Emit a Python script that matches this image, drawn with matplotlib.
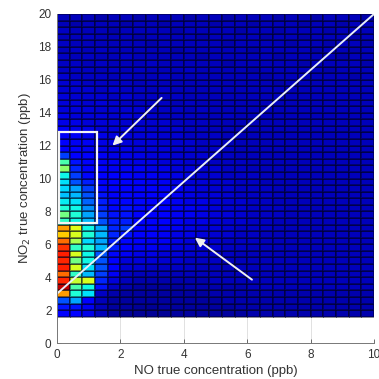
import numpy as np
import matplotlib
matplotlib.use("Agg")
import matplotlib.pyplot as plt
from matplotlib.patches import Rectangle

plt.rcParams['font.family'] = ['Liberation Sans', 'DejaVu Sans']

# 2D histogram bins (ppb)
no_range = (0, 10)
no2_range = (1.6, 20)
bin_width = 0.4

# relative density (percent of colour scale), rows from top (NO2 = 20) to bottom (NO2 = 1.6),
# columns from NO = 0 to NO = 10
density_rows = [
    "07 07 07 06 07 07 06 07 07 07 06 07 07 06 07 07 07 06 07 07 06 07 07 07 06",
    "07 06 07 07 07 06 07 07 06 07 07 07 06 07 07 06 07 07 07 06 07 07 06 07 07",
    "08 07 07 07 06 07 07 07 07 06 07 07 07 07 06 07 07 06 07 07 07 06 07 07 07",
    "07 07 08 07 07 07 06 07 07 07 07 06 07 07 07 07 06 07 07 06 07 07 07 06 07",
    "08 07 07 07 07 07 07 06 07 07 07 07 07 06 07 07 07 07 06 07 07 06 07 07 06",
    "07 08 07 08 07 07 07 07 07 06 07 07 07 07 07 06 07 07 07 07 06 07 07 06 07",
    "08 07 08 07 07 08 07 07 07 07 07 06 07 07 07 07 07 06 07 07 07 07 06 07 07",
    "08 08 07 08 07 07 07 08 07 07 07 07 07 06 07 07 07 07 07 06 07 07 07 07 06",
    "08 08 08 07 08 07 08 07 07 07 08 07 07 07 07 06 07 07 07 07 07 06 07 07 07",
    "09 08 08 08 07 08 07 07 08 07 07 07 07 07 07 07 06 07 07 07 07 07 07 06 07",
    "09 09 08 08 08 08 07 08 07 07 07 07 07 07 07 07 07 06 07 07 07 07 07 07 07",
    "09 09 09 08 09 08 08 07 08 07 07 07 07 07 07 07 07 07 07 07 07 07 07 07 07",
    "10 09 09 09 08 09 08 08 07 08 07 07 07 07 07 07 07 07 07 07 07 07 07 07 07",
    "10 10 09 10 09 08 08 08 08 07 08 07 07 07 07 07 07 07 07 07 07 07 07 07 07",
    "10 10 10 09 09 09 09 08 08 08 07 08 07 07 07 07 07 07 07 07 07 07 07 07 07",
    "11 10 10 10 09 10 09 09 08 08 08 07 07 08 07 07 07 07 07 07 07 07 07 07 07",
    "11 11 10 10 10 09 09 09 09 08 08 08 07 07 07 07 07 07 07 07 07 07 07 07 07",
    "12 11 11 10 10 10 10 09 09 09 08 08 07 07 07 07 07 07 07 07 07 07 07 07 07",
    "12 12 11 11 10 10 10 10 09 09 08 08 08 07 07 07 07 07 07 07 07 07 07 07 07",
    "13 12 12 11 11 10 10 10 09 09 09 08 08 07 07 07 07 07 07 07 07 07 07 07 07",
    "14 13 12 11 11 11 10 10 10 09 09 08 08 08 07 07 07 07 07 07 07 07 07 07 07",
    "20 14 13 12 11 11 11 10 10 09 09 09 08 08 07 07 07 07 07 07 07 07 07 07 07",
    "45 16 13 12 12 11 11 11 10 10 09 09 08 08 08 07 07 07 07 07 07 07 07 07 07",
    "53 18 14 13 12 12 12 11 11 10 10 09 09 08 08 07 07 07 07 07 07 07 07 07 07",
    "38 20 15 13 13 13 12 12 11 11 10 09 09 08 08 08 07 07 07 07 07 07 07 07 07",
    "36 22 17 14 13 13 13 12 12 11 10 10 09 09 08 08 07 07 07 07 07 07 07 07 07",
    "35 30 20 15 14 14 14 13 12 12 11 10 09 09 08 08 08 07 07 07 07 07 07 07 07",
    "33 32 22 16 14 15 14 14 13 12 11 10 10 09 08 08 08 07 07 07 07 07 07 07 07",
    "37 36 24 17 15 15 15 14 13 12 11 11 10 09 09 08 08 07 07 07 07 07 07 07 07",
    "40 38 28 18 15 16 15 14 13 12 12 11 10 09 09 08 08 08 07 07 07 07 07 07 07",
    "50 40 30 20 16 16 14 14 13 12 12 11 10 10 09 08 08 08 07 07 07 07 07 07 07",
    "42 38 32 22 17 17 14 13 13 12 11 11 10 09 09 08 08 07 07 07 07 07 07 07 07",
    "75 63 38 30 18 20 14 13 12 12 11 10 10 09 08 08 08 07 07 07 07 07 07 07 07",
    "70 62 40 32 18 16 13 13 12 11 11 10 09 09 08 08 07 07 07 07 07 07 07 07 07",
    "80 56 35 30 17 15 13 12 12 11 10 10 09 08 08 08 07 07 07 07 07 07 07 07 07",
    "86 42 40 32 17 14 12 12 11 10 10 09 09 08 08 07 07 07 07 07 07 07 07 07 07",
    "88 62 38 22 15 12 11 11 10 10 09 09 08 08 07 07 07 07 07 07 07 07 07 07 07",
    "87 50 38 22 14 10 10 10 09 09 08 08 08 07 07 07 07 07 07 07 07 07 07 07 07",
    "88 62 36 22 13 09 09 08 08 08 08 07 07 07 07 07 07 07 07 07 07 07 07 07 07",
    "80 42 32 20 12 08 07 07 07 07 07 07 07 07 07 07 07 07 07 07 07 07 07 07 07",
    "87 60 62 18 10 07 06 06 06 06 06 06 07 07 07 07 07 07 07 07 07 07 07 07 07",
    "95 45 38 16 08 06 05 05 05 05 06 06 06 06 06 07 07 07 07 07 07 07 07 07 07",
    "75 40 36 08 06 05 05 05 05 05 05 05 06 06 06 06 06 06 06 06 06 06 06 06 06",
    "22 30 14 07 05 05 05 05 05 05 05 05 05 06 06 06 06 06 06 06 06 06 06 06 06",
    "16 16 12 07 05 05 04 04 05 05 05 05 05 05 06 06 06 06 06 06 06 06 06 06 06",
    "14 14 11 07 05 04 04 04 04 05 05 05 05 05 05 06 06 06 06 06 06 06 06 06 06",
]

# reference line and annotations
ref_line_x = [0, 10]
ref_line_y = [3, 20]
box_no = [0.05, 1.25]
box_no2 = [7.3, 12.8]
arrow_tails = [(3.3, 14.9), (6.15, 3.85)]
arrow_heads = [(1.75, 12.0), (4.35, 6.4)]

density = np.array([[int(v) for v in row.split()] for row in density_rows]) / 100.0
density = density[::-1]
x_edges = np.arange(no_range[0], no_range[1] + bin_width / 2, bin_width)
y_edges = np.arange(no2_range[0], no2_range[1] + bin_width / 2, bin_width)

fig = plt.figure(figsize=(3.79, 3.79), dpi=100)
ax = fig.add_axes([57 / 379, 1 - 343 / 379, 317 / 379, 329 / 379])

ax.set_axisbelow(True)
ax.grid(True, color='#dcdcdc', lw=0.6)
ax.pcolormesh(x_edges, y_edges, density, cmap='jet', vmin=0.02, vmax=1,
              edgecolors=(0, 0, 0.1, 0.45), linewidth=0.3)

ax.plot(ref_line_x, ref_line_y, color='#e8eef8', lw=1.4)
ax.add_patch(Rectangle((box_no[0], box_no2[0]), box_no[1] - box_no[0],
                       box_no2[1] - box_no2[0], fill=False,
                       ec='#f4f4f4', lw=1.6))
for tail, head in zip(arrow_tails, arrow_heads):
    ax.annotate('', xy=head, xytext=tail,
                arrowprops=dict(arrowstyle='-|>', color='#f0f0f0', lw=1.4,
                                mutation_scale=13, shrinkA=0, shrinkB=0))

ax.set_xlim(0, 10)
ax.set_ylim(0, 20)
ax.set_xticks(range(0, 11, 2))
ax.set_yticks(range(0, 21, 2))
ax.tick_params(direction='in', length=3, width=0.6, colors='#555555',
               labelcolor='#333333', labelsize=8.5, pad=4)
for side in ('top', 'right'):
    ax.spines[side].set_visible(False)
for side in ('left', 'bottom'):
    ax.spines[side].set_color('#777777')
    ax.spines[side].set_linewidth(0.7)

ax.set_xlabel('NO true concentration (ppb)', fontsize=9.5, color='#333333', labelpad=3)
ax.set_ylabel('NO$_2$ true concentration (ppb)', fontsize=9.5, color='#333333', labelpad=4)

fig.savefig('out.png', dpi=100)
